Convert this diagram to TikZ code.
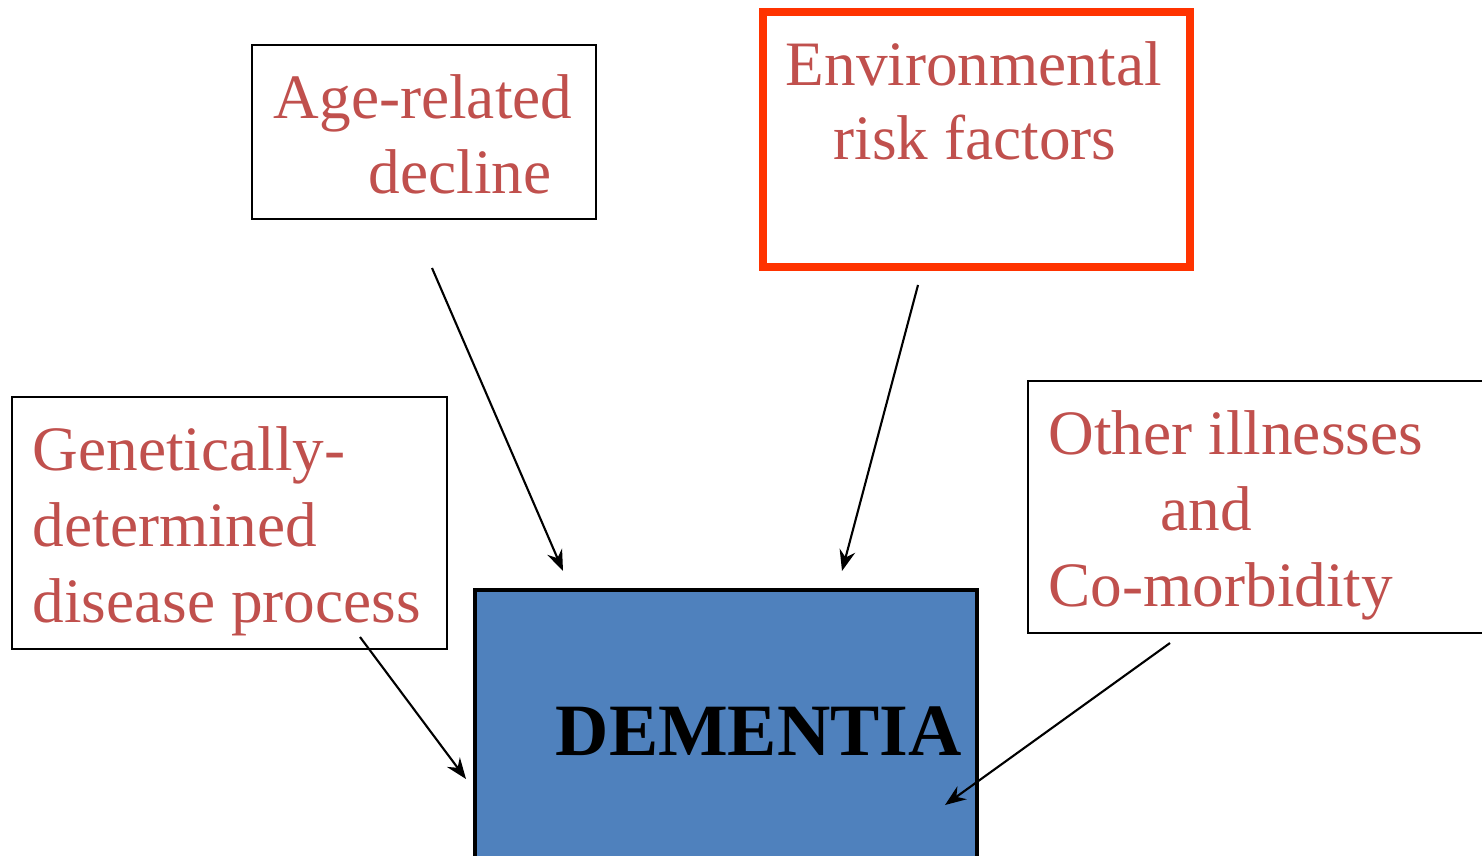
\documentclass[tikz,border=0pt]{standalone}
\usepackage{fontspec}
\setmainfont{Liberation Serif}
\usetikzlibrary{arrows.meta}
\definecolor{txtred}{HTML}{C0504D}
\definecolor{envred}{HTML}{FF3300}
\definecolor{dembl}{HTML}{4F81BD}
\tikzset{
  factor/.style={draw=black, line width=0.6pt, inner sep=0pt},
  label/.style={anchor=base west, inner sep=0pt, text=txtred, font=\fontsize{18pt}{21.6pt}\selectfont},
  link/.style={-{Stealth[length=2.1mm, width=1.6mm, inset=0.7mm]}, line width=0.6pt}
}
\begin{document}
\begin{tikzpicture}
    \useasboundingbox (0,0) rectangle (14.82,-8.55);

    % factor boxes
    \node[factor, minimum width=3.44cm, minimum height=1.74cm] (age) at (4.24,-1.32) {};
    \node[draw=envred, line width=2.3pt, inner sep=0pt, minimum width=4.27cm, minimum height=2.55cm] (env) at (9.765,-1.395) {};
    \node[factor, minimum width=4.35cm, minimum height=2.52cm] (gen) at (2.295,-5.23) {};
    \node[factor, minimum width=4.8cm, minimum height=2.52cm] (other) at (12.68,-5.07) {};

    % dementia box
    \node[draw=black, fill=dembl, line width=0.9pt, inner sep=0pt, minimum width=5.02cm, minimum height=2.8cm] (dem) at (7.26,-7.30) {};

    % texts
    \node[label] (age1) at (2.73,-1.19) {Age-related};
    \node[label] (age2) at (3.68,-1.94) {decline};
    \node[label] (env1) at (7.85,-0.86) {Environmental};
    \node[label] (env2) at (8.33,-1.60) {risk factors};
    \node[label] (gen1) at (0.32,-4.70) {Genetically-};
    \node[label] (gen2) at (0.32,-5.46) {determined};
    \node[label] (gen3) at (0.32,-6.22) {disease process};
    \node[label] (oth1) at (10.48,-4.54) {Other illnesses};
    \node[label] (oth2) at (11.60,-5.30) {and};
    \node[label] (oth3) at (10.48,-6.06) {Co-morbidity};
    \node[anchor=base west, inner sep=0pt, font=\bfseries\fontsize{21pt}{25pt}\selectfont] (demtxt) at (5.55,-7.55) {DEMENTIA};

    % arrow ends
    \coordinate (ageout) at (4.32,-2.68);
    \coordinate (agein) at (5.63,-5.71);
    \coordinate (envout) at (9.18,-2.85);
    \coordinate (envin) at (8.42,-5.71);
    \coordinate (genout) at (3.60,-6.37);
    \coordinate (genin) at (4.66,-7.79);
    \coordinate (othout) at (11.70,-6.43);
    \coordinate (othin) at (9.45,-8.05);

    \draw[link] (ageout) -- (agein);
    \draw[link] (envout) -- (envin);
    \draw[link] (genout) -- (genin);
    \draw[link] (othout) -- (othin);
\end{tikzpicture}
\end{document}
